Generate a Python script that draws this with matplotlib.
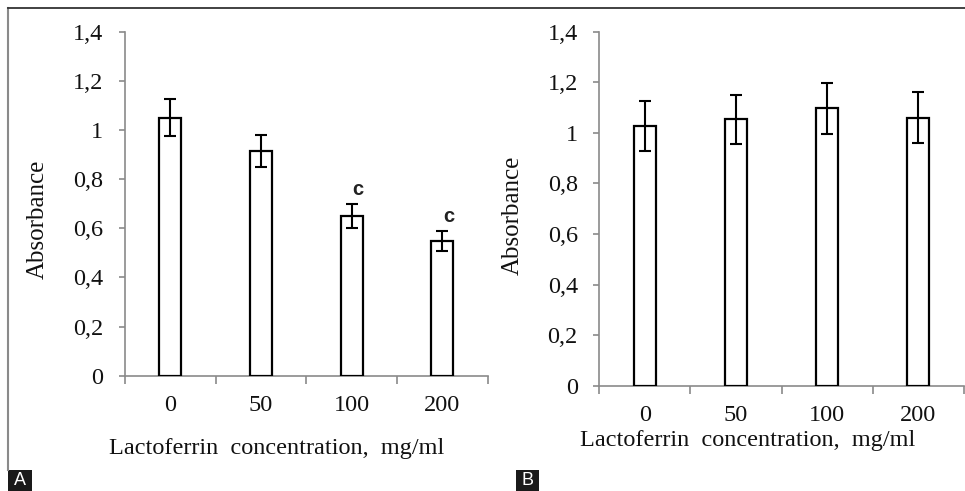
import matplotlib
matplotlib.use("Agg")
import matplotlib.pyplot as plt
from matplotlib.lines import Line2D
from matplotlib.patches import Rectangle

# ---- data ----
categories = ["0", "50", "100", "200"]
a_means = [1.05, 0.915, 0.65, 0.548]
a_errs = [0.075, 0.065, 0.047, 0.040]
a_marks = ["", "", "c", "c"]
b_means = [1.027, 1.053, 1.097, 1.060]
b_errs = [0.100, 0.096, 0.100, 0.100]
y_ticks = [0, 0.2, 0.4, 0.6, 0.8, 1.0, 1.2, 1.4]
y_tick_labels = ["0", "0,2", "0,4", "0,6", "0,8", "1", "1,2", "1,4"]
x_label = "Lactoferrin  concentration,  mg/ml"
y_label = "Absorbance"

W, H = 965, 491
fig = plt.figure(figsize=(W / 100, H / 100), dpi=100)
fig.patch.set_facecolor("white")

serif = ["Liberation Serif", "DejaVu Serif"]
axis_col = "#8a8a8a"
text_col = "#111111"


def make_panel(rect, means, errs, marks, xlab_pos, ylab_pos):
    ax = fig.add_axes(rect)
    x = list(range(len(categories)))
    ax.bar(x, means, width=0.24, color="white", edgecolor="black", linewidth=1.6, zorder=3)
    ax.errorbar(x, means, yerr=errs, fmt="none", ecolor="black", elinewidth=1.5,
                capsize=4, capthick=1.5, zorder=4)
    for xi, m, e, t in zip(x, means, errs, marks):
        if t:
            ax.text(xi + 0.07, m + e + 0.06, t, ha="center", va="center",
                    fontsize=14.5, fontweight="bold",
                    family=["Liberation Sans", "DejaVu Sans"], color="#222")
    ax.set_xlim(-0.5, len(categories) - 0.5)
    ax.set_ylim(0, 1.4)
    for s in ["top", "right"]:
        ax.spines[s].set_visible(False)
    for s in ["left", "bottom"]:
        ax.spines[s].set_color(axis_col)
        ax.spines[s].set_linewidth(1.2)
    ax.set_yticks(y_ticks)
    ax.set_yticklabels(y_tick_labels, family=serif, fontsize=17.5, color=text_col)
    ax.tick_params(axis="y", length=4.5, width=1.2, color=axis_col, pad=11)
    ax.set_xticks(x)
    ax.set_xticklabels(categories, family=serif, fontsize=17.5, color=text_col)
    ax.tick_params(axis="x", which="major", length=0, pad=14)
    ax.set_xticks([i - 0.5 for i in range(len(categories) + 1)], minor=True)
    ax.tick_params(axis="x", which="minor", length=5.5, width=1.2, color=axis_col, direction="out")
    ax.set_xlabel(x_label, family=serif, fontsize=17.5, color=text_col, va="center")
    ax.xaxis.set_label_coords(*xlab_pos)
    ax.set_ylabel(y_label, family=serif, fontsize=18, color=text_col, va="center")
    ax.yaxis.set_label_coords(*ylab_pos)
    ax.patch.set_alpha(0)
    return ax


def rect_px(x0, x1, y_top, y_bottom):
    return [x0 / W, 1 - y_bottom / H, (x1 - x0) / W, (y_bottom - y_top) / H]


make_panel(rect_px(125, 487.7, 31.7, 375.7), a_means, a_errs, a_marks,
           (0.419, -0.213), (-0.24, 0.455))
make_panel(rect_px(599.3, 964, 31.7, 385.7), b_means, b_errs, ["", "", "", ""],
           (0.407, -0.155), (-0.237, 0.482))

# frame lines
fig.add_artist(Line2D([8 / W, 8 / W], [1 - 8 / H, 1 - 470 / H], color="#8a8a8a", lw=1.5,
                      transform=fig.transFigure))
fig.add_artist(Line2D([8 / W, 1], [1 - 8 / H, 1 - 8 / H], color="#333333", lw=1.3,
                      transform=fig.transFigure))

# panel letters
for letter, x0, x1 in [("A", 8, 32), ("B", 516, 539)]:
    fig.add_artist(Rectangle((x0 / W, 0), (x1 - x0) / W, 21 / H, facecolor="#1a1a1a",
                             edgecolor="none", transform=fig.transFigure))
    fig.text((x0 + x1) / 2 / W, 10.5 / H, letter, color="white", ha="center", va="center",
             fontsize=13, family=["Liberation Sans", "DejaVu Sans"])

fig.savefig("out.png", dpi=100)
